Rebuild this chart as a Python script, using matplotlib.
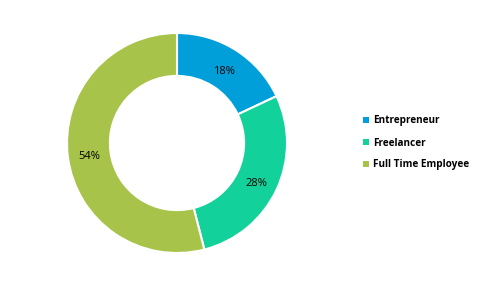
import matplotlib.pyplot as plt
from matplotlib.patches import Patch

# Data
categories = ['Entrepreneur', 'Freelancer', 'Full Time Employee']
shares = [18, 28, 54]
colors = ['#009FDA', '#12D19A', '#A8C34A']

fig = plt.figure(figsize=(4.8, 2.88), dpi=100)
fig.patch.set_facecolor('white')

# donut axes, centre around (177, 143) px, radius 110 px
ax = fig.add_axes([67 / 480, 35 / 288, 220 / 480, 220 / 288])
wedges, texts, autotexts = ax.pie(
    shares, colors=colors, startangle=90, counterclock=False,
    radius=1.0, autopct='%d%%', pctdistance=0.8,
    wedgeprops=dict(width=0.39, edgecolor='white', linewidth=1.5),
    textprops=dict(fontsize=8, family='Open Sans', color='black'))
for t in autotexts:
    x, y = t.get_position()
    t.set_position((x, y - 0.025))
ax.set_xlim(-1, 1)
ax.set_ylim(-1, 1)
ax.set_aspect('equal')
ax.axis('off')

handles = [Patch(facecolor=c, edgecolor='none') for c in colors]
fig.legend(handles, categories, loc='center left',
           bbox_to_anchor=(354 / 480, 1 - 143 / 288), frameon=False,
           handlelength=0.58, handleheight=0.58, handletextpad=0.4,
           labelspacing=1.1,
           prop=dict(family='Open Sans', weight='bold', size=7.2))

fig.savefig('out.png', dpi=100)
